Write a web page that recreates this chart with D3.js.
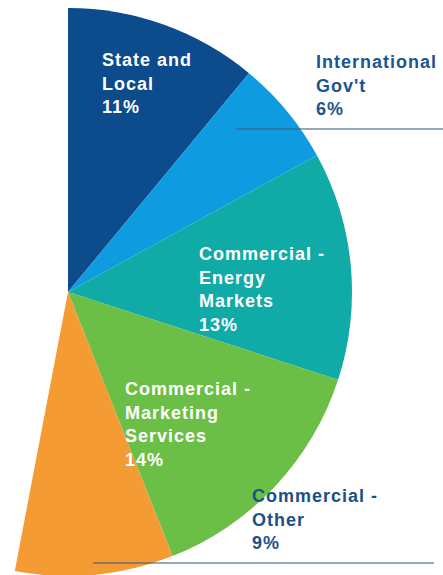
<!DOCTYPE html>
<html>
<head>
<meta charset="utf-8">
<script src="https://cdn.jsdelivr.net/npm/d3@7"></script>
<style>
  html, body { margin: 0; padding: 0; background: #ffffff; }
  svg { display: block; }
  text { font-family: "Liberation Sans", Arial, sans-serif; font-weight: bold; }
</style>
</head>
<body>
<svg id="chart" width="443" height="575"></svg>
<script>
// Revenue share by segment (percent of total)
const segments = ["State and Local", "International Gov't", "Commercial - Energy Markets",
                  "Commercial - Marketing Services", "Commercial - Other"];
const shares = [11, 6, 13, 14, 9];
const labelLines = [
  ["State and", "Local", "11%"],
  ["International", "Gov't", "6%"],
  ["Commercial -", "Energy", "Markets", "13%"],
  ["Commercial -", "Marketing", "Services", "14%"],
  ["Commercial -", "Other", "9%"]
];
const total = 100;

const colors = ["#0c4b8c", "#0f9be0", "#10aaa7", "#6bbf47", "#f49b33"];

const width = 443, height = 575;
const cx = 68, cy = 292, radius = 284;

const svg = d3.select("#chart");
const g = svg.append("g").attr("transform", `translate(${cx},${cy})`);

// Only the listed segments are drawn; the sweep covers their share of the whole circle
const shown = d3.sum(shares);
const pie = d3.pie().sort(null).value(d => d)
  .startAngle(0)
  .endAngle(2 * Math.PI * shown / total);
const arc = d3.arc().innerRadius(0).outerRadius(radius);

const arcs = pie(shares);
g.selectAll("path.slice")
  .data(arcs)
  .join("path")
  .attr("class", "slice")
  .attr("d", arc)
  .attr("fill", (d, i) => colors[i]);

// Leader rules under the two outside labels
const rules = [
  { x1: 236, x2: 443, y: 129 },
  { x1: 93, x2: 434, y: 563 }
];
svg.selectAll("line.rule")
  .data(rules)
  .join("line")
  .attr("class", "rule")
  .attr("x1", d => d.x1).attr("x2", d => d.x2)
  .attr("y1", d => d.y).attr("y2", d => d.y)
  .attr("stroke", "#3e5f7d")
  .attr("stroke-opacity", 0.55)
  .attr("stroke-width", 2);

// Label placement: first baseline and left edge for each segment
const labelPos = [
  { x: 102, y: 66, fill: "#ffffff" },
  { x: 316, y: 68, fill: "#1d5490" },
  { x: 199, y: 260, fill: "#ffffff" },
  { x: 125, y: 395, fill: "#ffffff" },
  { x: 252, y: 502, fill: "#1d4f87" }
];
const lineStep = 23.6;

const labels = svg.selectAll("text.label")
  .data(labelLines)
  .join("text")
  .attr("class", "label")
  .attr("x", (d, i) => labelPos[i].x)
  .attr("y", (d, i) => labelPos[i].y)
  .attr("fill", (d, i) => labelPos[i].fill)
  .style("font-size", "18px")
  .style("letter-spacing", "1px");

labels.selectAll("tspan")
  .data((d, i) => d.map(t => ({ t, i })))
  .join("tspan")
  .attr("x", d => labelPos[d.i].x)
  .attr("dy", (d, j) => j === 0 ? 0 : lineStep)
  .text(d => d.t);
</script>
</body>
</html>
